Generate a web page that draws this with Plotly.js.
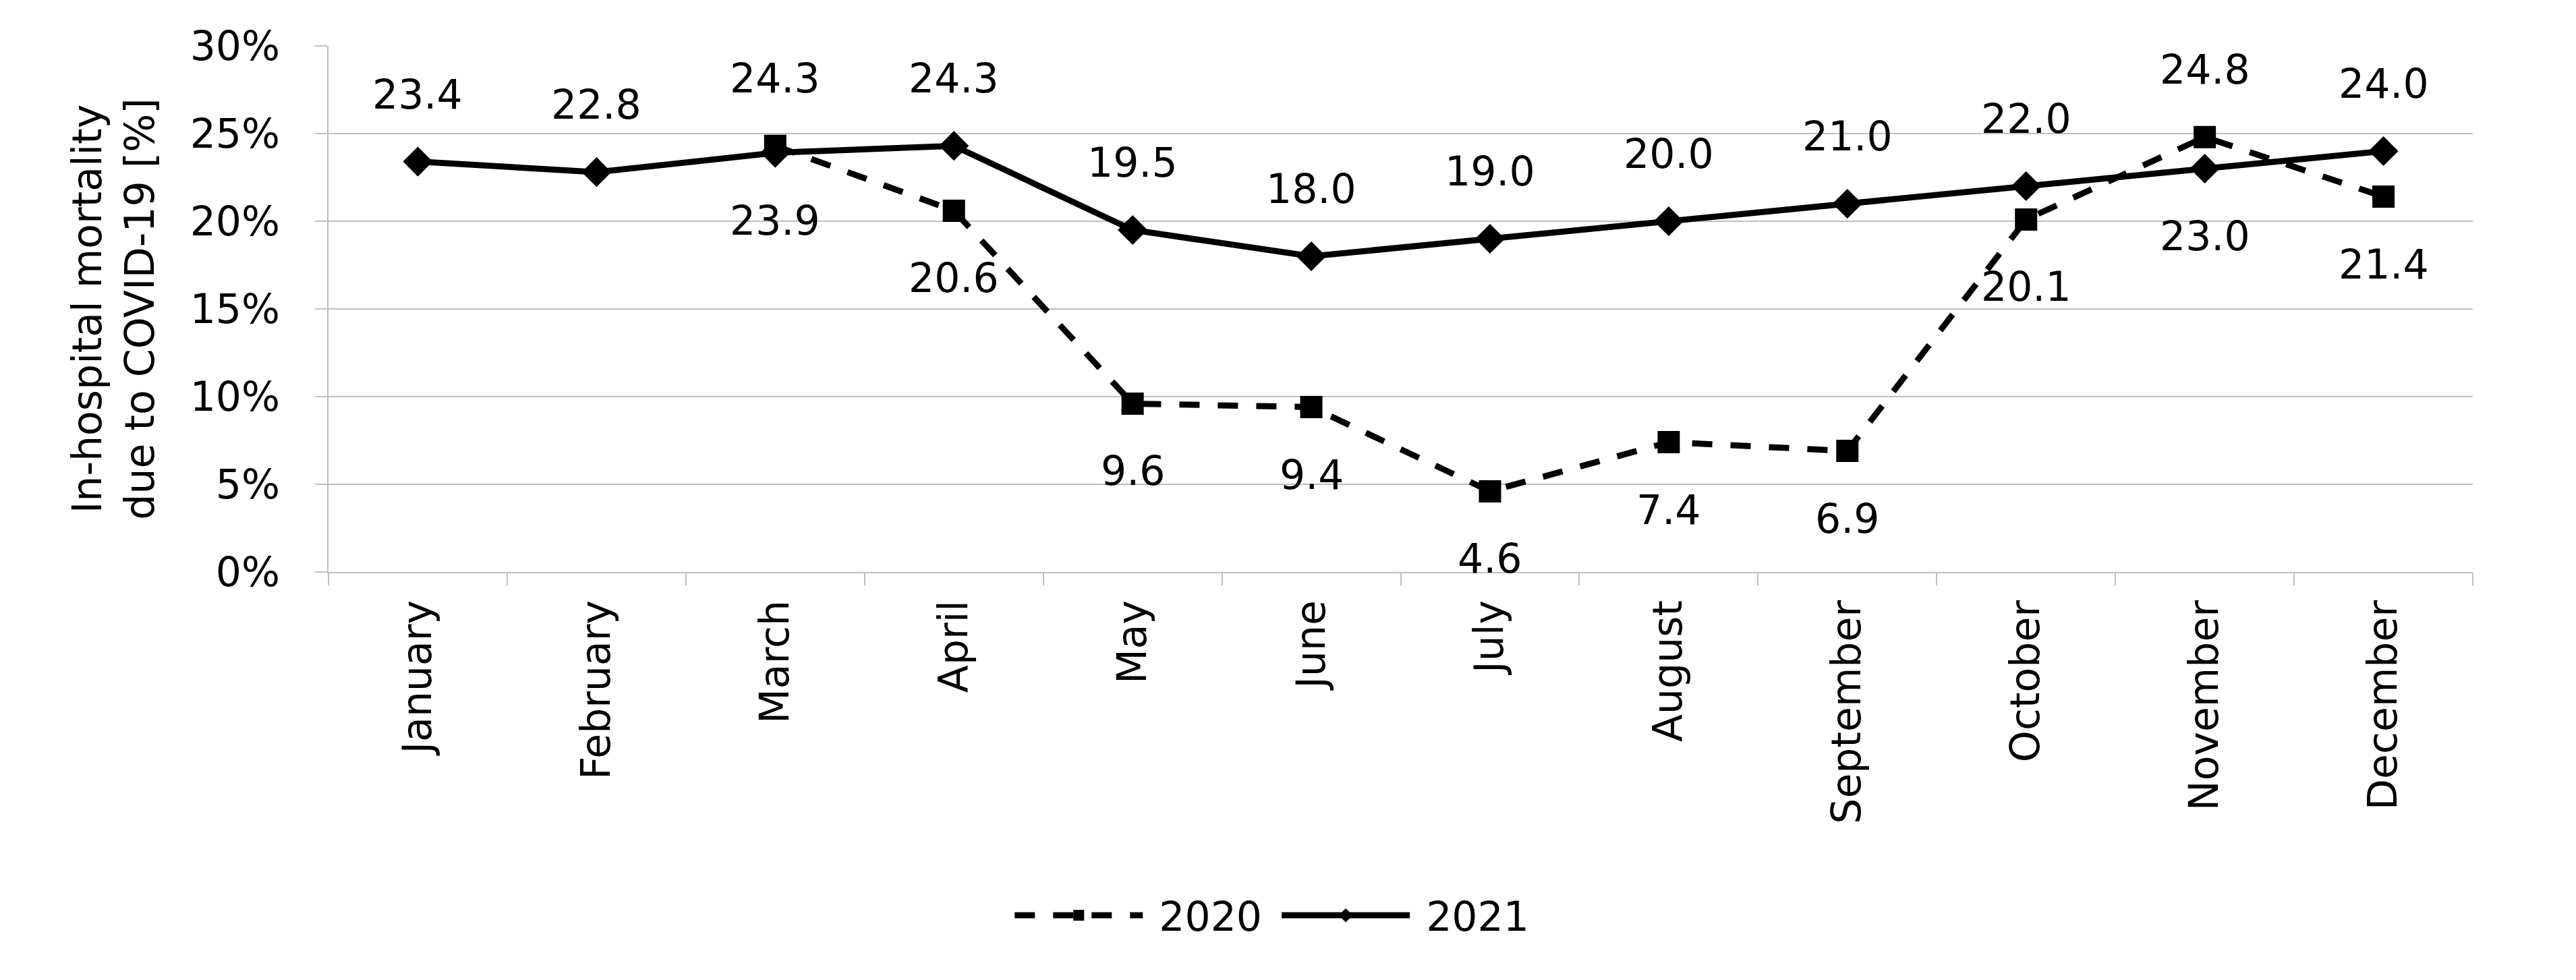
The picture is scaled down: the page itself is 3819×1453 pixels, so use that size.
<!DOCTYPE html>
<html>
<head>
<meta charset="utf-8">
<script src="https://cdn.plot.ly/plotly-3.0.1.min.js"></script>
<style>html,body{margin:0;padding:0;background:#fff;}#chart{width:3819px;height:1453px;}</style>
</head>
<body>
<div id="chart"></div>
<script>
// ---- data ----
const months = ['January','February','March','April','May','June','July','August','September','October','November','December'];
const values2020 = [null, null, 24.3, 20.6, 9.6, 9.4, 4.6, 7.4, 6.9, 20.1, 24.8, 21.4];
const values2021 = [23.4, 22.8, 23.9, 24.3, 19.5, 18.0, 19.0, 20.0, 21.0, 22.0, 23.0, 24.0];
const seriesNames = ['2020', '2021'];
const yTickVals = [0, 5, 10, 15, 20, 25, 30];
const yTickText = yTickVals.map(v => v + '%');

// label placement (style config): 1 = above, -1 = below
const place2020 = [0, 0, 1, -1, -1, -1, -1, -1, -1, -1, 1, -1];
const place2021 = [1, 1, -1, 1, 1, 1, 1, 1, 1, 1, -1, 1];

const FONT = 'DejaVu Sans';
const FS = 60;
const LABEL_SHIFT = 100;
const NB = '\u00a0';

const traces = [
  {
    x: months, y: values2020, name: NB + seriesNames[0] + NB, type: 'scatter', mode: 'lines+markers',
    line: {color: '#000', width: 9, dash: '30px,27px'},
    marker: {symbol: 'square', size: 33, color: '#000'},
    connectgaps: false
  },
  {
    x: months, y: values2021, name: NB + seriesNames[1], type: 'scatter', mode: 'lines+markers',
    line: {color: '#000', width: 9},
    marker: {symbol: 'diamond', size: 34, color: '#000'}
  }
];

const annotations = [];
function addLabels(vals, places) {
  vals.forEach((v, i) => {
    if (v === null) return;
    annotations.push({
      x: months[i], y: v, xref: 'x', yref: 'y',
      text: v.toFixed(1), showarrow: false,
      yshift: places[i] * LABEL_SHIFT,
      xanchor: 'center', yanchor: 'middle',
      font: {family: FONT, size: FS, color: '#000'}
    });
  });
}
addLabels(values2020, place2020);
addLabels(values2021, place2021);

const layout = {
  width: 3819, height: 1453,
  paper_bgcolor: '#fff', plot_bgcolor: '#fff',
  margin: {l: 487, r: 153, t: 68, b: 605, autoexpand: false},
  font: {family: FONT, size: FS, color: '#000'},
  showlegend: true,
  legend: {
    orientation: 'h', x: 0.44, xanchor: 'center', y: -0.6526, yanchor: 'middle',
    font: {family: FONT, size: FS, color: '#000'},
    itemwidth: 190, bgcolor: 'rgba(0,0,0,0)'
  },
  xaxis: {
    type: 'category', tickangle: -90, automargin: false,
    range: [-0.5, months.length - 0.5], autorange: false,
    showline: true, linecolor: '#bfbfbf', linewidth: 2,
    ticks: 'outside', tickson: 'boundaries', ticklen: 18, tickcolor: '#bfbfbf', tickwidth: 2,
    showgrid: false, zeroline: false,
    tickfont: {family: FONT, size: FS, color: '#000'},
    ticklabelstandoff: 16
  },
  yaxis: {
    range: [0, 30], autorange: false, tickvals: yTickVals, ticktext: yTickText, automargin: false,
    showline: true, linecolor: '#bfbfbf', linewidth: 2,
    ticks: 'outside', ticklen: 18, tickcolor: '#bfbfbf', tickwidth: 2,
    showgrid: true, gridcolor: '#bfbfbf', gridwidth: 2, zeroline: false,
    tickfont: {family: FONT, size: FS, color: '#000'},
    ticklabelstandoff: 40,
    title: {text: 'In-hospital mortality<br>due to COVID-19 [%]', font: {family: FONT, size: FS, color: '#000'}, standoff: 34}
  },
  annotations: annotations
};

Plotly.newPlot('chart', traces, layout, {staticPlot: true, displayModeBar: false});
</script>
</body>
</html>
